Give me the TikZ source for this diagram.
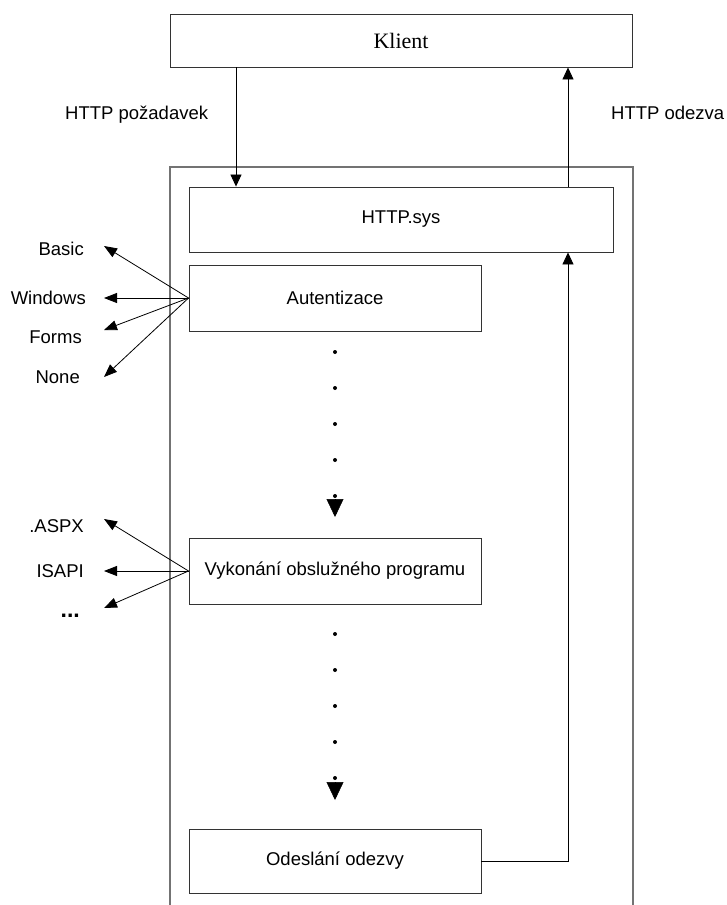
\documentclass[tikz,border=0pt]{standalone}
\usepackage{fontspec}
\setmainfont{Liberation Sans}
\newfontfamily\klientfont{Liberation Serif}
\usetikzlibrary{arrows.meta}

\begin{document}
\begin{tikzpicture}[x=1pt, y=-1pt,
  font=\fontsize{18.5}{21}\selectfont,
  stage/.style={draw=black!80, line width=0.9pt, minimum width=292pt, minimum height=66pt, inner sep=0pt},
  wire/.style={draw=black, line width=0.8pt},
  tipv/.style={-{Triangle[length=12pt, width=11pt]}},
  tips/.style={-{Triangle[length=13pt, width=10pt]}},
  lbl/.style={anchor=base east, inner sep=0pt},
  dotline/.style={line width=4pt, line cap=round, dash pattern=on 0pt off 36pt},
]
\useasboundingbox (0,0) rectangle (726,905);

% server frame, open at the bottom
\draw[draw=black!55, line width=1.4pt] (170,910) -- (170,167) -- (633,167) -- (633,910);

% boxes
\node[draw=black!80, line width=0.9pt, minimum width=462pt, minimum height=53pt,
      font=\klientfont\fontsize{22}{26}\selectfont] (klient) at (401,40.5) {Klient};
\node[stage, minimum width=424pt, minimum height=65pt] (httpsys) at (401,219.5) {HTTP.sys};
\node[stage] (aut) at (335,298) {Autentizace};
\node[stage] (vyk) at (335,571) {Vykonání obslužného programu};
\node[stage, minimum height=64pt] (odes) at (335,861) {Odeslání odezvy};

% request / response between client and HTTP.sys
\coordinate (reqx) at (236,0);
\coordinate (resx) at (568,0);
\draw[wire, tipv] (klient.south -| reqx) -- (httpsys.north -| reqx);
\draw[wire, tipv] (httpsys.north -| resx) -- (klient.south -| resx);
\node[anchor=base west, inner sep=0pt] (reqlbl) at (65,119.5) {HTTP požadavek};
\node[anchor=base west, inner sep=0pt] (reslbl) at (611,119.5) {HTTP odezva};

% response path back to HTTP.sys
\coordinate (bend) at (568,861);
\draw[wire, tipv] (odes.east) -- (bend) -- (httpsys.south -| bend);

% pipeline continuation (dotted with arrowhead)
\coordinate (d1s) at (335,352);
\coordinate (d1e) at (335,517);
\draw[dotline] (d1s) -- (d1e);
\draw[line width=0.5pt, -{Triangle[length=18pt, width=17pt]}] (335,499) -- (d1e);
\coordinate (d2s) at (335,634);
\coordinate (d2e) at (335,800);
\draw[dotline] (d2s) -- (d2e);
\draw[line width=0.5pt, -{Triangle[length=18pt, width=17pt]}] (335,782) -- (d2e);

% authentication methods
\coordinate (tBasic) at (104,246);
\coordinate (tWin) at (104,298);
\coordinate (tForms) at (104,330);
\coordinate (tNone) at (104,377);
\draw[wire, tips] (aut.west) -- (tBasic);
\draw[wire, tips] (aut.west) -- (tWin);
\draw[wire, tips] (aut.west) -- (tForms);
\draw[wire, tips] (aut.west) -- (tNone);
\node[lbl] (lBasic) at (84,255.5) {Basic};
\node[lbl] (lWin) at (86,304.5) {Windows};
\node[lbl] (lForms) at (82,343.5) {Forms};
\node[lbl] (lNone) at (80,383.5) {None};

% handler types
\coordinate (tAspx) at (104,519);
\coordinate (tIsapi) at (104,571);
\coordinate (tMore) at (104,608);
\draw[wire, tips] (vyk.west) -- (tAspx);
\draw[wire, tips] (vyk.west) -- (tIsapi);
\draw[wire, tips] (vyk.west) -- (tMore);
\node[lbl] (lAspx) at (84,532.5) {.ASPX};
\node[lbl] (lIsapi) at (84,577.5) {ISAPI};
\node[lbl, font=\bfseries\fontsize{23}{26}\selectfont] (lMore) at (80,617) {...};
\end{tikzpicture}
\end{document}
